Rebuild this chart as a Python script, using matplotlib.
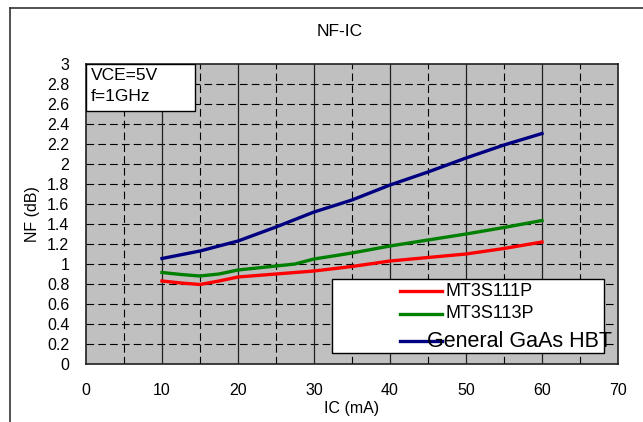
import matplotlib
matplotlib.use("Agg")
import matplotlib.pyplot as plt
from matplotlib.lines import Line2D
from matplotlib.patches import Rectangle

plt.rcParams['font.family'] = ['Liberation Sans', 'DejaVu Sans']
plt.rcParams['lines.scale_dashes'] = False

# ---- data ----
ic_red = [10, 12.5, 15, 17.5, 20, 25, 30, 35, 40, 45, 50, 55, 60]
nf_red = [0.83, 0.81, 0.795, 0.83, 0.87, 0.90, 0.93, 0.975, 1.03, 1.065, 1.10, 1.155, 1.22]
ic_green = [10, 12.5, 15, 17.5, 20, 25, 27.5, 30, 35, 40, 45, 50, 55, 60]
nf_green = [0.915, 0.895, 0.88, 0.90, 0.94, 0.98, 1.00, 1.05, 1.11, 1.18, 1.24, 1.30, 1.365, 1.435]
ic_blue = [10, 15, 20, 25, 30, 35, 40, 45, 50, 55, 60]
nf_blue = [1.055, 1.13, 1.23, 1.37, 1.52, 1.64, 1.79, 1.92, 2.06, 2.19, 2.305]

series_names = ['MT3S111P', 'MT3S113P', 'General GaAs HBT']
series_colors = ['#FF0000', '#008000', '#000080']

x_ticks = [0, 10, 20, 30, 40, 50, 60, 70]
x_minor = [5, 15, 25, 35, 45, 55, 65]
y_ticks = [0, 0.2, 0.4, 0.6, 0.8, 1, 1.2, 1.4, 1.6, 1.8, 2, 2.2, 2.4, 2.6, 2.8, 3]
y_labels = ['0', '0.2', '0.4', '0.6', '0.8', '1', '1.2', '1.4', '1.6', '1.8', '2',
            '2.2', '2.4', '2.6', '2.8', '3']

W, H = 643, 422
fig = plt.figure(figsize=(W / 100, H / 100), dpi=100)
fig.patch.set_facecolor('white')

# outer frame (left and top lines)
fig.add_artist(Line2D([9.5 / W, 9.5 / W], [0, 1 - 7.5 / H], transform=fig.transFigure,
                      color='#333333', lw=1.2))
fig.add_artist(Line2D([9.5 / W, 1.0], [1 - 7.5 / H, 1 - 7.5 / H], transform=fig.transFigure,
                      color='#333333', lw=1.2))

ax = fig.add_axes([86 / W, (H - 364) / H, (618 - 86) / W, (364 - 64) / H])
ax.set_facecolor('#C0C0C0')
ax.set_xlim(0, 70)
ax.set_ylim(0, 3)

# grid
dash = (0, (5.5, 3.0))
for yv in y_ticks[1:-1]:
    ax.axhline(yv, color='black', lw=0.8, ls=dash, zorder=1)
for xv in x_ticks[1:-1]:
    ax.axvline(xv, color='#202020', lw=0.9, zorder=1)
for xv in x_minor:
    ax.axvline(xv, color='black', lw=0.8, ls=dash, zorder=1)

for s in ax.spines.values():
    s.set_color('#202020')
    s.set_linewidth(1.2)

ax.set_xticks(x_ticks)
ax.set_yticks(y_ticks)
ax.set_yticklabels(y_labels)
ax.tick_params(axis='both', length=0, labelsize=11.5)
ax.tick_params(axis='x', pad=14)
ax.tick_params(axis='y', pad=12)

# curves
ax.plot(ic_red, nf_red, color=series_colors[0], lw=2.4, zorder=3)
ax.plot(ic_green, nf_green, color=series_colors[1], lw=2.4, zorder=3)
ax.plot(ic_blue, nf_blue, color=series_colors[2], lw=2.4, zorder=3)

ax.set_xlabel('IC (mA)', fontsize=11.5, labelpad=2)
ax.set_ylabel('NF (dB)', fontsize=11.5, labelpad=5)

fig.text(340 / W, 1 - 32 / H, 'NF-IC', ha='center', va='center', fontsize=12.5)

# condition box
ax.add_patch(Rectangle((0, 0.843), 0.205, 0.157, transform=ax.transAxes,
                       facecolor='white', edgecolor='black', lw=1.0, zorder=5))
ax.text(0.009, 0.962, 'VCE=5V', transform=ax.transAxes, ha='left', va='center',
        fontsize=12.5, zorder=6)
ax.text(0.009, 0.892, 'f=1GHz', transform=ax.transAxes, ha='left', va='center',
        fontsize=12.5, zorder=6)

# legend (manual)
ax.add_patch(Rectangle((0.462, 0.037), 0.512, 0.246, transform=ax.transAxes,
                       facecolor='white', edgecolor='black', lw=1.0, zorder=5))
leg_y = [0.243, 0.167, 0.078]
for i in range(3):
    ax.add_line(Line2D([0.59, 0.669], [leg_y[i], leg_y[i]], transform=ax.transAxes,
                       color=series_colors[i], lw=2.4, zorder=6))
ax.text(0.676, leg_y[0], series_names[0], transform=ax.transAxes, ha='left',
        va='center', fontsize=13, zorder=7)
ax.text(0.676, leg_y[1], series_names[1], transform=ax.transAxes, ha='left',
        va='center', fontsize=13, zorder=7)
ax.text(0.641, leg_y[2] - 0.004, series_names[2], transform=ax.transAxes, ha='left',
        va='center', fontsize=15.5, zorder=7)

fig.savefig('out.png', dpi=100)
